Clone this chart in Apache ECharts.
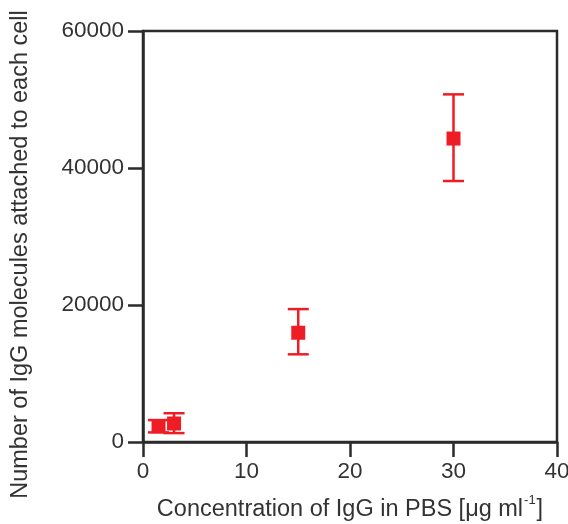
<!DOCTYPE html>
<html>
<head>
<meta charset="utf-8">
<script src="https://cdn.jsdelivr.net/npm/echarts@6/dist/echarts.min.js"></script>
<style>html,body{margin:0;padding:0;background:#fff}#c{width:568px;height:524px}</style>
</head>
<body>
<div id="c"></div>
<script>
const concentrations = [1.5, 3, 15, 30];
const moleculesMean = [2300, 2700, 15950, 44300];
const moleculesLower = [1400, 1300, 12800, 38100];
const moleculesUpper = [3200, 4200, 19400, 50750];
const xTicks = [0, 10, 20, 30, 40];
const yTicks = [0, 20000, 40000, 60000];

const RED = '#ee1c25';
const AX = '#2b2b2b';
const FONT = 'Liberation Sans, Arial, sans-serif';

const chart = echarts.init(document.getElementById('c'), null, {renderer: 'canvas'});
const meanData = concentrations.map((x, i) => [x, moleculesMean[i]]);
const errData = concentrations.map((x, i) => [x, moleculesLower[i], moleculesUpper[i]]);

chart.setOption({
  animation: false,
  backgroundColor: '#fff',
  grid: {left: 143, right: 11, top: 31, bottom: 82, outerBoundsMode: 'none', containLabel: false,
         show: true, borderColor: AX, borderWidth: 2.5, backgroundColor: 'transparent'},
  xAxis: {
    type: 'value', min: xTicks[0], max: xTicks[xTicks.length - 1], interval: 10,
    name: '{a|Concentration of IgG in PBS [μg ml}{s|-1}{a|]}',
    nameLocation: 'middle', nameGap: 52,
    nameTextStyle: {
      rich: {
        a: {fontFamily: FONT, fontSize: 23.5, color: '#333', lineHeight: 28, verticalAlign: 'bottom'},
        s: {fontFamily: FONT, fontSize: 13, color: '#333', lineHeight: 28, verticalAlign: 'top', padding: [0, 1, 0, 1]}
      }
    },
    axisLine: {show: true, lineStyle: {color: AX, width: 2.5}},
    axisTick: {show: true, length: 15, lineStyle: {color: AX, width: 2.5}},
    axisLabel: {fontFamily: FONT, fontSize: 22.5, color: '#333', margin: 18},
    splitLine: {show: false}
  },
  yAxis: {
    type: 'value', min: yTicks[0], max: yTicks[yTicks.length - 1], interval: 20000,
    name: 'Number of IgG molecules attached to each cell',
    nameLocation: 'middle', nameGap: 110,
    nameTextStyle: {fontFamily: FONT, fontSize: 23.5, color: '#333', padding: [0, 36, 0, 0]},
    axisLine: {show: true, lineStyle: {color: AX, width: 2.5}},
    axisTick: {show: true, length: 15, lineStyle: {color: AX, width: 2.5}},
    axisLabel: {fontFamily: FONT, fontSize: 22.5, color: '#333', margin: 19, formatter: v => String(v)},
    splitLine: {show: false}
  },
  series: [
    {
      type: 'custom',
      data: errData,
      z: 3,
      renderItem: function (params, api) {
        const x = api.value(0);
        const lo = api.coord([x, api.value(1)]);
        const hi = api.coord([x, api.value(2)]);
        const hw = 10.5;
        const st = {stroke: RED, lineWidth: 2.5};
        return {
          type: 'group',
          children: [
            {type: 'line', shape: {x1: lo[0], y1: lo[1], x2: hi[0], y2: hi[1]}, style: st},
            {type: 'line', shape: {x1: lo[0] - hw, y1: lo[1], x2: lo[0] + hw, y2: lo[1]}, style: st},
            {type: 'line', shape: {x1: hi[0] - hw, y1: hi[1], x2: hi[0] + hw, y2: hi[1]}, style: st}
          ]
        };
      }
    },
    {
      type: 'scatter',
      data: meanData,
      symbol: 'rect',
      symbolSize: 14,
      z: 4,
      itemStyle: {color: RED, opacity: 1}
    }
  ]
});
</script>
</body>
</html>
